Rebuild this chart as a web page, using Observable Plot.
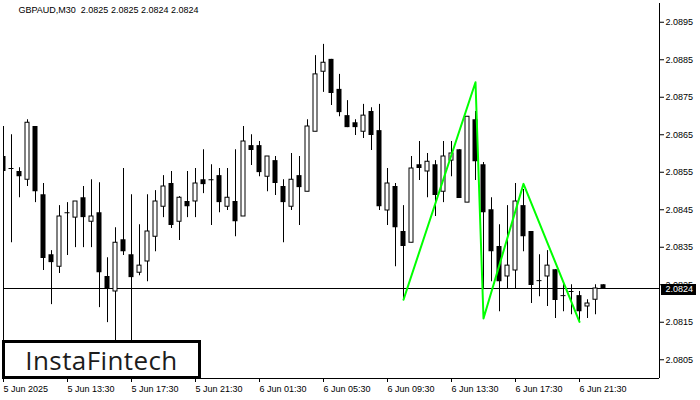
<!DOCTYPE html>
<html><head><meta charset="utf-8">
<script src="https://cdn.jsdelivr.net/npm/d3@7"></script>
<script src="https://cdn.jsdelivr.net/npm/@observablehq/plot@0.6"></script>
<style>
html,body{margin:0;padding:0;background:#fff;}
#wrap{position:relative;width:700px;height:400px;overflow:hidden;background:#fff;}
#wrap svg{position:absolute;left:0;top:0;}
#logo{position:absolute;left:2px;top:340px;width:199px;height:39px;box-sizing:border-box;border:3px solid #000;background:#fff;display:flex;align-items:center;justify-content:center;font-family:"Open Sans",sans-serif;font-size:26px;font-weight:500;letter-spacing:0.4px;color:#1c1c1c;z-index:2;}
</style></head><body>
<div id="wrap"><div id="logo">InstaFintech</div></div>
<script>
const symbol = "GBPAUD,M30";
const tickIdx = [0, 8, 16, 24, 32, 40, 48, 56, 64, 72];
const tickLabels = ["5 Jun 2025","5 Jun 13:30","5 Jun 17:30","5 Jun 21:30","6 Jun 01:30","6 Jun 05:30","6 Jun 09:30","6 Jun 13:30","6 Jun 17:30","6 Jun 21:30"];
const yTicks = [2.0805, 2.0815, 2.0825, 2.0835, 2.0845, 2.0855, 2.0865, 2.0875, 2.0885, 2.0895];

const opens = [2.08592,2.08560,2.08552,2.08530,2.08672,2.08490,2.08330,2.08298,2.08442,2.08429,
2.08482,2.08418,2.08442,2.08272,2.08232,2.08370,2.08330,2.08282,2.08312,2.08378,
2.08458,2.08520,2.08418,2.08472,2.08472,2.08530,2.08530,2.08541,2.08458,2.08472,
2.08432,2.08621,2.08621,2.08538,2.08581,2.08512,2.08458,2.08541,2.08498,2.08658,
2.08818,2.08851,2.08771,2.08701,2.08682,2.08658,2.08712,2.08661,2.08448,2.08512,
2.08392,2.08362,2.08570,2.08552,2.08570,2.08498,2.08581,2.08610,2.08469,2.08690,
2.08570,2.08450,2.08352,2.08272,2.08288,2.08461,2.08392,2.08261,2.08272,2.08290,
2.08221,2.08232,2.08221,2.08192,2.08210,2.0825];
const highs = [2.08672,2.08650,2.08562,2.08690,2.08672,2.08520,2.08341,2.08461,2.08469,2.08472,
2.08512,2.08530,2.08522,2.08322,2.08402,2.08560,2.08490,2.08410,2.08490,2.08501,
2.08541,2.08552,2.08485,2.08552,2.08560,2.08610,2.08570,2.08560,2.08560,2.08610,
2.08672,2.08650,2.08632,2.08592,2.08592,2.08530,2.08600,2.08592,2.08690,2.08861,
2.08891,2.08851,2.08811,2.08741,2.08690,2.08731,2.08722,2.08731,2.08560,2.08520,
2.08461,2.08592,2.08632,2.08600,2.08581,2.08632,2.08632,2.08610,2.08698,2.08712,
2.08576,2.08482,2.08410,2.08461,2.08520,2.08504,2.08392,2.08330,2.08341,2.08290,
2.08253,2.08250,2.08232,2.08210,2.08250,2.0825];
const lows = [2.08000,2.08362,2.08482,2.08512,2.08469,2.08288,2.08197,2.08280,2.08328,2.08349,
2.08349,2.08349,2.08189,2.08149,2.08077,2.08328,2.08077,2.08274,2.08258,2.08338,
2.08429,2.08400,2.08368,2.08429,2.08429,2.08493,2.08408,2.08442,2.08448,2.08378,
2.08432,2.08568,2.08538,2.08498,2.08488,2.08362,2.08448,2.08408,2.08498,2.08658,
2.08763,2.08728,2.08698,2.08669,2.08648,2.08640,2.08608,2.08448,2.08408,2.08298,
2.08210,2.08362,2.08528,2.08482,2.08432,2.08469,2.08538,2.08480,2.08469,2.08528,
2.08237,2.08258,2.08178,2.08240,2.08240,2.08338,2.08200,2.08218,2.08192,2.08160,
2.08178,2.08170,2.08152,2.08160,2.08170,2.0824];
const closes = [2.08552,2.08560,2.08538,2.08682,2.08498,2.08320,2.08309,2.08432,2.08442,2.08472,
2.08429,2.08432,2.08282,2.08240,2.08362,2.08338,2.08269,2.08301,2.08392,2.08472,
2.08512,2.08408,2.08482,2.08458,2.08520,2.08517,2.08530,2.08469,2.08482,2.08418,
2.08632,2.08608,2.08549,2.08592,2.08520,2.08469,2.08530,2.08509,2.08672,2.08811,
2.08842,2.08760,2.08709,2.08669,2.08669,2.08701,2.08648,2.08458,2.08520,2.08402,
2.08352,2.08560,2.08560,2.08578,2.08488,2.08592,2.08600,2.08480,2.08698,2.08578,
2.08442,2.08338,2.08258,2.08301,2.08472,2.08378,2.08248,2.08261,2.08301,2.08208,
2.08221,2.08232,2.08178,2.08200,2.08240,2.0824];

const patternIdx = [50, 59, 60, 65, 72];
const patternPrice = [2.08210, 2.08790, 2.08160, 2.08519, 2.08151];

const candles = opens.map((o, i) => ({i, o, h: highs[i], l: lows[i], c: closes[i]}));
const up = candles.filter(d => d.c > d.o);
const down = candles.filter(d => d.c < d.o);
const flat = candles.filter(d => d.c === d.o);
const pattern = patternIdx.map((i, j) => ({i, p: patternPrice[j]}));
const last = candles[candles.length - 1];
const fmt = d3.format(".4f");
const title = `${symbol}\u00a0\u00a0${fmt(last.o)} ${fmt(last.h)} ${fmt(last.l)} ${fmt(last.c)}`;
const lastPrice = last.c;

const xMax = 82;
const yDom = [2.08, 2.09];
const half = 2.5 / 8, halfW = 2 / 8;

const chart = Plot.plot({
  width: 700, height: 400,
  marginLeft: 3, marginRight: 41, marginTop: 3, marginBottom: 22,
  style: {fontFamily: "'Liberation Sans', Arial, sans-serif", fontSize: "9px", color: "#000", background: "transparent"},
  x: {type: "linear", domain: [0, xMax], label: null},
  y: {type: "linear", domain: yDom, label: null},
  marks: [
    Plot.ruleY([lastPrice], {stroke: "#000"}),
    Plot.ruleX(candles, {x: "i", y1: "l", y2: "h", stroke: "#000", clip: true}),
    Plot.rect(down, {x1: d => d.i - half, x2: d => d.i + half, y1: "o", y2: "c", fill: "#000", clip: true}),
    Plot.rect(up, {x1: d => d.i - halfW, x2: d => d.i + halfW, y1: "o", y2: "c", fill: "#fff", stroke: "#000", clip: true}),
    Plot.ruleY(flat, {y: "o", x1: d => d.i - half, x2: d => d.i + half, stroke: "#000", clip: true}),
    Plot.line(pattern, {x: "i", y: "p", stroke: "#00ff00", strokeWidth: 2}),
    Plot.ruleY([yDom[0]], {stroke: "#000"}),
    Plot.ruleX([xMax], {stroke: "#000"}),
    Plot.axisX(tickIdx, {anchor: "bottom", label: null, tickFormat: d => tickLabels[tickIdx.indexOf(d)], tickSize: 4, tickPadding: 3, textAnchor: "start"}),
    Plot.axisY(yTicks, {anchor: "right", label: null, tickFormat: fmt, tickSize: 4, tickPadding: 2}),
    Plot.ruleY([lastPrice], {x1: xMax + 0.25, x2: xMax + 4.625, strokeWidth: 11, stroke: "#000", dy: 1}),
    Plot.text([lastPrice], {y: d => d, text: d => fmt(d), frameAnchor: "right", dx: 6, dy: 1, textAnchor: "start", fill: "#fff"}),
    Plot.text([title], {text: d => d, frameAnchor: "top-left", dx: 15, dy: 7, textAnchor: "start", lineAnchor: "middle"})
  ]
});
const wrap = document.getElementById("wrap");
wrap.insertBefore(chart, wrap.firstChild);
</script>
</body></html>
